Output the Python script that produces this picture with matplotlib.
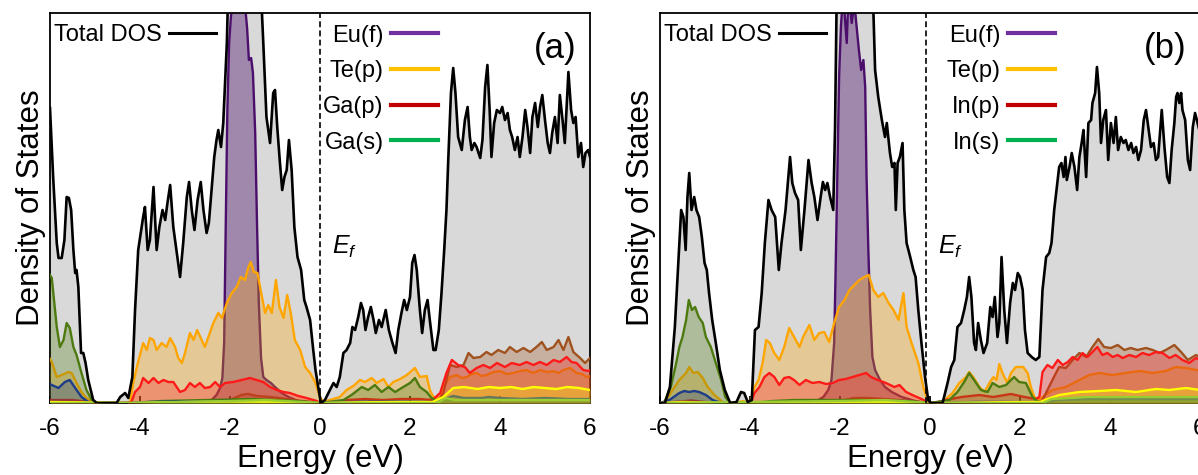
import numpy as np
import matplotlib
matplotlib.use("Agg")
import matplotlib.pyplot as plt
from matplotlib.lines import Line2D

plt.rcParams['font.family'] = ['Liberation Sans', 'DejaVu Sans']
plt.rcParams['mathtext.fontset'] = 'custom'
plt.rcParams['mathtext.it'] = 'Liberation Sans:italic'
plt.rcParams['mathtext.rm'] = 'Liberation Sans'

# ---------------- data (energy in eV, DOS in arb. units) ----------------
xticks = [-6, -4, -2, 0, 2, 4, 6]
ylim_top = 39

# panel (a): EuGa-type compound
tot_a = [(-6.0, 29.5), (-5.93, 22.6), (-5.85, 16.0), (-5.81, 14.5), (-5.74, 14.5), (-5.68, 16.3), (-5.63, 20.6),
         (-5.58, 20.5), (-5.53, 19.3), (-5.48, 15.3), (-5.44, 13.0), (-5.41, 13.3), (-5.37, 11.6), (-5.31, 5.0),
         (-5.26, 5.0), (-5.21, 4.0), (-5.15, 2.3), (-5.04, 0.3), (-4.96, 0.0), (-4.52, 0.0), (-4.44, 0.6),
         (-4.33, 1.0), (-4.26, 0.5), (-4.17, 2.6), (-4.11, 9.3), (-4.04, 15.3), (-3.93, 18.6), (-3.89, 19.6),
         (-3.83, 15.3), (-3.78, 16.3), (-3.70, 21.6), (-3.63, 15.3), (-3.57, 17.6), (-3.50, 19.3), (-3.44, 18.3),
         (-3.39, 20.0), (-3.33, 21.8), (-3.26, 17.6), (-3.19, 15.3), (-3.11, 12.6), (-3.04, 16.0), (-2.96, 20.6),
         (-2.91, 22.1), (-2.85, 19.3), (-2.79, 17.3), (-2.72, 20.3), (-2.65, 22.1), (-2.59, 19.3), (-2.52, 17.0),
         (-2.47, 18.0), (-2.41, 21.3), (-2.35, 24.6), (-2.30, 26.3), (-2.26, 27.3), (-2.20, 25.6), (-2.15, 28.0),
         (-2.07, 36.0), (-2.02, 45.0), (-1.65, 50.0), (-1.30, 40.0), (-1.26, 36.0), (-1.19, 28.6), (-1.11, 26.0),
         (-1.04, 31.0), (-1.00, 31.3), (-0.95, 27.6), (-0.89, 24.0), (-0.84, 21.3), (-0.79, 22.6), (-0.74, 23.3),
         (-0.69, 26.3), (-0.63, 23.3), (-0.57, 17.6), (-0.50, 14.6), (-0.42, 13.3), (-0.35, 10.3), (-0.30, 9.6),
         (-0.22, 8.3), (-0.15, 5.3), (-0.10, 3.3), (-0.04, 1.6), (0.02, 0.0), (0.11, 0.3), (0.22, 1.3),
         (0.30, 2.0), (0.37, 1.6), (0.44, 2.6), (0.52, 5.0), (0.59, 5.3), (0.67, 6.0), (0.72, 7.6), (0.78, 7.3),
         (0.85, 8.6), (0.91, 10.0), (0.96, 9.3), (1.01, 7.3), (1.07, 8.6), (1.13, 9.6), (1.19, 8.3), (1.24, 7.0),
         (1.31, 8.3), (1.37, 7.6), (1.46, 9.3), (1.53, 7.3), (1.61, 6.0), (1.68, 5.0), (1.74, 7.3), (1.81, 9.0),
         (1.87, 10.3), (1.93, 9.3), (2.00, 10.6), (2.05, 14.0), (2.10, 14.8), (2.15, 13.3), (2.22, 9.3),
         (2.27, 7.0), (2.33, 9.3), (2.39, 10.3), (2.44, 8.3), (2.52, 5.3), (2.57, 5.3), (2.64, 7.3), (2.70, 11.0),
         (2.76, 15.3), (2.81, 19.3), (2.85, 24.3), (2.91, 31.0), (2.96, 33.5), (3.01, 31.0), (3.07, 26.6),
         (3.15, 25.3), (3.22, 28.3), (3.28, 29.6), (3.33, 26.6), (3.37, 25.3), (3.43, 26.0), (3.48, 25.6),
         (3.56, 24.5), (3.61, 26.3), (3.67, 31.6), (3.72, 33.8), (3.77, 29.3), (3.81, 24.6), (3.87, 28.0),
         (3.93, 29.3), (4.00, 29.0), (4.05, 29.6), (4.11, 28.3), (4.17, 29.0), (4.22, 27.3), (4.27, 26.6),
         (4.33, 25.3), (4.39, 26.6), (4.44, 24.6), (4.50, 26.6), (4.56, 29.3), (4.61, 27.6), (4.67, 25.0),
         (4.72, 28.6), (4.78, 30.0), (4.84, 27.6), (4.89, 29.6), (4.94, 30.8), (5.00, 28.3), (5.06, 26.0),
         (5.11, 25.0), (5.16, 27.0), (5.22, 28.6), (5.28, 26.0), (5.33, 30.8), (5.39, 28.3), (5.44, 26.0),
         (5.52, 33.1), (5.58, 29.3), (5.63, 28.0), (5.68, 28.6), (5.74, 24.6), (5.80, 26.0), (5.85, 23.6),
         (5.90, 25.0), (5.96, 25.3), (6.0, 24.6)]

eu_f_a = [(-6.0, 0), (-2.9, 0), (-2.56, 0.1), (-2.41, 0.3), (-2.30, 0.8), (-2.22, 1.5), (-2.17, 2.5), (-2.13, 6),
          (-2.10, 16), (-2.06, 29), (-2.02, 36), (-1.98, 38.6), (-1.93, 41), (-1.85, 40), (-1.79, 42),
          (-1.73, 39.5), (-1.67, 40), (-1.62, 37.5), (-1.58, 34.3), (-1.53, 34.5), (-1.49, 33), (-1.44, 27),
          (-1.40, 18), (-1.36, 10), (-1.31, 4.5), (-1.26, 2.6), (-1.19, 2.3), (-1.09, 2.0), (-1.00, 1.6),
          (-0.85, 1.0), (-0.70, 0.6), (-0.48, 0.2), (-0.19, 0), (6.0, 0)]

te_p_a = [(-6.0, 4.4), (-5.96, 4.1), (-5.85, 2.6), (-5.74, 2.8), (-5.59, 3.1), (-5.52, 3.0), (-5.41, 2.0),
          (-5.30, 1.1), (-5.19, 0.5), (-5.04, 0.1), (-4.9, 0), (-4.3, 0), (-4.22, 0.1), (-4.15, 2.0), (-4.07, 3.6),
          (-3.93, 6.0), (-3.85, 5.3), (-3.78, 6.5), (-3.70, 6.3), (-3.63, 5.3), (-3.52, 6.0), (-3.41, 5.6),
          (-3.33, 6.5), (-3.22, 5.6), (-3.15, 4.5), (-3.07, 4.0), (-3.00, 5.0), (-2.89, 7.0), (-2.81, 6.3),
          (-2.73, 7.3), (-2.63, 6.3), (-2.56, 5.6), (-2.48, 6.6), (-2.37, 8.0), (-2.26, 9.0), (-2.18, 8.5),
          (-2.07, 10.0), (-1.96, 11.0), (-1.85, 11.6), (-1.76, 12.6), (-1.67, 12.3), (-1.59, 13.6), (-1.54, 14.1),
          (-1.47, 13.1), (-1.39, 13.0), (-1.32, 11.3), (-1.22, 9.0), (-1.15, 9.8), (-1.07, 9.0), (-0.98, 12.3),
          (-0.90, 9.6), (-0.81, 8.5), (-0.73, 10.8), (-0.65, 9.0), (-0.56, 6.3), (-0.44, 5.3), (-0.33, 3.6),
          (-0.22, 3.0), (-0.11, 2.1), (0.0, 0.6), (0.07, 0.1), (0.44, 0.6), (0.59, 1.3), (0.74, 1.7), (0.89, 2.3),
          (1.0, 2.1), (1.15, 2.5), (1.26, 2.0), (1.41, 2.4), (1.52, 1.6), (1.63, 2.1), (1.78, 2.4), (1.93, 2.8),
          (2.11, 3.5), (2.22, 2.6), (2.37, 2.7), (2.44, 1.3), (2.52, 0.6), (2.67, 0.5), (2.74, 1.6), (2.89, 2.6),
          (3.04, 2.8), (3.15, 2.5), (3.26, 2.6), (3.37, 2.9), (3.48, 3.0), (3.59, 2.7), (3.70, 2.8), (3.85, 3.1),
          (4.0, 3.2), (4.15, 2.9), (4.30, 3.0), (4.45, 3.2), (4.59, 3.3), (4.74, 3.0), (4.89, 3.3), (5.04, 3.1),
          (5.19, 3.2), (5.30, 3.0), (5.41, 3.3), (5.56, 3.5), (5.70, 3.0), (5.82, 2.9), (5.93, 2.6), (6.0, 2.7)]

ga_p_a = [(-6.0, 0.3), (-5.5, 0.3), (-5.1, 0.1), (-4.9, 0), (-4.3, 0), (-4.19, 0.1), (-4.11, 1.1), (-4.0, 1.6),
          (-3.93, 2.5), (-3.81, 2.0), (-3.70, 2.5), (-3.59, 2.0), (-3.48, 2.3), (-3.37, 2.1), (-3.26, 2.1),
          (-3.11, 1.1), (-3.0, 1.3), (-2.89, 2.0), (-2.78, 1.6), (-2.67, 2.0), (-2.56, 1.5), (-2.44, 1.6),
          (-2.33, 2.1), (-2.22, 1.6), (-2.11, 2.0), (-1.93, 2.1), (-1.74, 2.3), (-1.56, 2.5), (-1.41, 2.3),
          (-1.26, 2.1), (-1.11, 1.6), (-0.96, 1.3), (-0.81, 1.1), (-0.67, 1.0), (-0.48, 0.7), (-0.30, 0.5),
          (-0.07, 0.2), (0.0, 0), (0.3, 0.1), (0.6, 0.3), (1.0, 0.4), (1.4, 0.3), (1.8, 0.4), (2.2, 0.4),
          (2.5, 0.3), (2.67, 1.0), (2.81, 3.0), (2.93, 4.3), (3.07, 3.8), (3.22, 3.6), (3.33, 3.0), (3.48, 3.5),
          (3.63, 3.8), (3.78, 3.5), (3.93, 4.0), (4.11, 3.6), (4.26, 4.0), (4.44, 3.8), (4.59, 4.1), (4.74, 3.8),
          (4.89, 4.1), (5.04, 3.8), (5.19, 4.3), (5.33, 4.1), (5.48, 4.6), (5.59, 4.1), (5.70, 4.0), (5.85, 3.3),
          (5.96, 3.2), (6.0, 3.3)]

ga_s_a = [(-6.0, 12.8), (-5.96, 12.5), (-5.85, 7.6), (-5.78, 5.6), (-5.70, 6.3), (-5.63, 8.0), (-5.56, 7.5),
          (-5.48, 5.6), (-5.41, 4.8), (-5.30, 3.0), (-5.19, 1.3), (-5.07, 0.3), (-5.0, 0), (-4.2, 0), (-3.5, 0.2),
          (-2.5, 0.3), (-1.5, 0.4), (-0.5, 0.2), (0.0, 0), (0.52, 0.3), (0.70, 0.8), (0.93, 1.6), (1.07, 1.3),
          (1.22, 1.8), (1.37, 1.1), (1.52, 1.6), (1.67, 1.1), (1.85, 1.6), (2.0, 2.0), (2.11, 2.5), (2.22, 1.6),
          (2.37, 1.1), (2.48, 0.5), (2.6, 0.2), (3.0, 0.3), (4.0, 0.3), (5.0, 0.3), (6.0, 0.3)]

brown_a = [(-6.0, 0), (-2.3, 0), (-2.0, 0.3), (-1.75, 0.8), (-1.6, 0.9), (-1.4, 0.7), (-1.1, 0.6), (-0.9, 0.5),
           (-0.6, 0.3), (-0.2, 0.1), (0.0, 0), (2.6, 0), (2.74, 1.0), (2.89, 3.8), (3.04, 3.6), (3.19, 3.8),
           (3.30, 5.0), (3.41, 4.5), (3.56, 4.6), (3.70, 5.1), (3.81, 4.8), (3.96, 5.3), (4.11, 5.0), (4.22, 5.6),
           (4.37, 5.1), (4.52, 5.5), (4.67, 5.1), (4.81, 5.6), (4.93, 6.1), (5.04, 5.3), (5.19, 5.6), (5.30, 6.3),
           (5.41, 5.3), (5.52, 6.6), (5.63, 5.1), (5.78, 4.5), (5.89, 4.0), (6.0, 4.5)]

blue_a = [(-6.0, 1.9), (-5.96, 1.8), (-5.81, 1.5), (-5.67, 2.1), (-5.56, 2.3), (-5.44, 1.5), (-5.30, 0.6),
          (-5.15, 0.1), (-5.0, 0), (-4.2, 0), (-3.8, 0.1), (-3.0, 0.15), (-2.0, 0.2), (-1.0, 0.1), (0.0, 0),
          (0.5, 0.1), (1.5, 0.15), (2.5, 0.1), (2.7, 0.3), (2.96, 0.7), (3.2, 0.5), (3.6, 0.5), (3.75, 0.6),
          (4.0, 0.5), (4.5, 0.4), (5.0, 0.5), (5.5, 0.4), (6.0, 0.4)]

yellow_a = [(-6.0, 0.1), (-5.0, 0.05), (-4.3, 0), (-3.0, 0.1), (-2.0, 0.15), (-1.0, 0.1), (0.0, 0), (0.5, 0.05),
            (1.5, 0.1), (2.5, 0.1), (2.74, 0.6), (2.96, 1.5), (3.2, 1.6), (3.5, 1.4), (3.75, 1.6), (4.0, 1.5),
            (4.25, 1.6), (4.5, 1.4), (4.75, 1.6), (5.0, 1.5), (5.25, 1.4), (5.5, 1.6), (5.75, 1.5), (6.0, 1.3)]

lime_a = [(-6.0, 0), (-4.2, 0), (-2.0, 0.2), (-1.2, 0.3), (0.0, 0), (2.6, 0), (2.8, 0.5), (3.0, 0.3), (4.0, 0.3),
          (5.0, 0.3), (6.0, 0.3)]

# panel (b): EuIn-type compound
tot_b = [(-6.0, 0), (-5.89, 0), (-5.78, 1.6), (-5.67, 7.6), (-5.59, 14.3), (-5.53, 19.3), (-5.48, 18.6),
         (-5.43, 15.3), (-5.39, 20.6), (-5.35, 23.0), (-5.30, 19.3), (-5.24, 20.6), (-5.19, 19.3), (-5.13, 18.6),
         (-5.07, 16.6), (-5.01, 14.0), (-4.96, 13.3), (-4.91, 11.0), (-4.84, 8.3), (-4.76, 6.0), (-4.67, 3.3),
         (-4.56, 1.3), (-4.44, 0), (-4.30, 0.1), (-4.20, 1.1), (-4.13, 1.0), (-4.05, 0.1), (-3.96, 0.3),
         (-3.89, 7.3), (-3.81, 7.6), (-3.74, 11.0), (-3.67, 16.0), (-3.59, 20.3), (-3.52, 19.3), (-3.44, 18.6),
         (-3.36, 13.3), (-3.30, 16.0), (-3.21, 19.3), (-3.11, 24.6), (-3.06, 22.0), (-3.00, 21.0), (-2.93, 20.3),
         (-2.87, 15.3), (-2.79, 19.3), (-2.70, 24.3), (-2.63, 22.0), (-2.57, 20.6), (-2.50, 18.3), (-2.43, 20.6),
         (-2.38, 22.1), (-2.33, 21.3), (-2.28, 22.0), (-2.22, 20.6), (-2.15, 19.3), (-2.11, 27.6), (-2.07, 42.0),
         (-1.65, 50.0), (-1.26, 39.5), (-1.22, 33.3), (-1.15, 30.6), (-1.07, 28.3), (-1.00, 26.6), (-0.96, 28.0),
         (-0.89, 25.0), (-0.84, 23.6), (-0.79, 24.0), (-0.76, 19.3), (-0.72, 24.0), (-0.67, 24.6), (-0.61, 26.0),
         (-0.57, 19.3), (-0.52, 16.0), (-0.44, 14.6), (-0.37, 13.3), (-0.32, 12.6), (-0.26, 9.3), (-0.19, 6.0),
         (-0.11, 2.6), (-0.04, 0.3), (0.02, 0), (0.28, 0), (0.39, 2.0), (0.47, 3.6), (0.54, 4.3), (0.61, 7.6),
         (0.69, 8.0), (0.76, 9.3), (0.82, 10.6), (0.87, 12.6), (0.92, 10.6), (0.98, 6.0), (1.02, 5.3),
         (1.07, 8.0), (1.13, 6.3), (1.19, 5.0), (1.27, 6.0), (1.34, 9.6), (1.39, 8.6), (1.44, 10.6), (1.50, 6.6),
         (1.54, 8.0), (1.59, 14.6), (1.65, 9.3), (1.71, 6.0), (1.78, 10.0), (1.84, 12.0), (1.89, 11.3),
         (1.95, 13.0), (2.00, 12.6), (2.06, 11.3), (2.11, 7.3), (2.17, 5.0), (2.26, 4.6), (2.35, 4.3),
         (2.43, 4.6), (2.50, 11.3), (2.58, 14.6), (2.65, 15.0), (2.70, 16.0), (2.76, 19.3), (2.82, 21.6),
         (2.87, 23.6), (2.92, 24.0), (2.97, 22.6), (3.01, 24.6), (3.04, 22.3), (3.10, 23.6), (3.15, 25.0),
         (3.21, 23.6), (3.27, 21.3), (3.32, 24.6), (3.37, 26.0), (3.41, 27.3), (3.47, 22.6), (3.52, 28.0),
         (3.58, 28.3), (3.61, 30.0), (3.67, 31.0), (3.71, 33.6), (3.76, 31.0), (3.80, 26.0), (3.85, 28.3),
         (3.91, 29.3), (3.96, 24.3), (4.02, 28.0), (4.08, 26.0), (4.13, 28.6), (4.18, 25.3), (4.24, 26.6),
         (4.30, 26.0), (4.35, 26.3), (4.41, 25.3), (4.47, 26.0), (4.52, 25.0), (4.58, 25.6), (4.63, 24.3),
         (4.69, 25.3), (4.75, 28.3), (4.80, 29.3), (4.85, 27.6), (4.91, 25.6), (4.97, 26.0), (5.02, 24.3),
         (5.07, 24.6), (5.15, 29.3), (5.21, 25.6), (5.27, 22.6), (5.32, 22.0), (5.37, 25.3), (5.43, 28.0),
         (5.47, 30.6), (5.50, 31.0), (5.54, 30.0), (5.58, 31.0), (5.61, 29.3), (5.67, 28.3), (5.73, 24.3),
         (5.78, 23.3), (5.84, 27.6), (5.89, 29.0), (5.93, 28.3), (6.0, 27.0)]

eu_f_b = [(-6.0, 0), (-2.9, 0), (-2.56, 0.1), (-2.37, 0.6), (-2.26, 1.3), (-2.19, 2.3), (-2.13, 6), (-2.10, 12.6),
          (-2.06, 22.6), (-2.02, 32.6), (-1.98, 37.6), (-1.93, 41), (-1.85, 36), (-1.81, 41), (-1.74, 38),
          (-1.68, 40), (-1.63, 37.6), (-1.58, 35.3), (-1.53, 33.3), (-1.48, 34.3), (-1.44, 31.6), (-1.41, 22.6),
          (-1.37, 15.3), (-1.33, 9.3), (-1.28, 4.6), (-1.22, 3.3), (-1.11, 2.3), (-1.00, 1.6), (-0.85, 1.1),
          (-0.63, 0.6), (-0.33, 0.2), (-0.11, 0), (6.0, 0)]

te_p_b = [(-6.0, 0), (-5.9, 0), (-5.87, 0.3), (-5.72, 1.3), (-5.57, 2.3), (-5.42, 3.0), (-5.35, 3.6), (-5.26, 3.0),
          (-5.16, 3.1), (-5.05, 2.5), (-4.94, 1.6), (-4.79, 0.8), (-4.61, 0.1), (-4.5, 0), (-4.25, 0.1),
          (-4.15, 0.2), (-4.05, 0), (-3.98, 0.3), (-3.90, 1.6), (-3.81, 2.3), (-3.72, 4.0), (-3.64, 6.3),
          (-3.56, 6.0), (-3.46, 5.0), (-3.35, 4.3), (-3.24, 5.6), (-3.13, 7.5), (-3.02, 6.6), (-2.90, 5.6),
          (-2.82, 6.6), (-2.68, 7.8), (-2.57, 6.3), (-2.46, 7.0), (-2.35, 7.1), (-2.24, 6.1), (-2.13, 8.0),
          (-2.02, 9.6), (-1.90, 10.3), (-1.79, 11.3), (-1.68, 11.8), (-1.57, 12.3), (-1.46, 12.6), (-1.36, 12.8),
          (-1.26, 11.3), (-1.15, 10.6), (-1.04, 11.0), (-0.92, 10.0), (-0.81, 9.3), (-0.70, 8.3), (-0.59, 11.0),
          (-0.52, 7.6), (-0.41, 6.0), (-0.26, 4.0), (-0.15, 1.6), (-0.07, 0.5), (0.0, 0), (0.28, 0.1),
          (0.50, 1.0), (0.65, 2.0), (0.80, 2.6), (0.87, 3.1), (0.96, 2.6), (1.10, 1.6), (1.21, 1.1), (1.32, 2.0),
          (1.41, 2.6), (1.48, 2.3), (1.54, 3.9), (1.61, 3.0), (1.72, 2.0), (1.80, 3.0), (1.91, 3.6), (1.98, 3.6),
          (2.07, 3.6), (2.17, 3.0), (2.24, 1.6), (2.32, 0.6), (2.43, 0.3), (2.50, 0.6), (2.72, 1.3), (3.02, 1.6),
          (3.32, 2.3), (3.54, 2.8), (3.76, 3.0), (4.06, 2.8), (4.35, 3.0), (4.65, 3.2), (4.95, 3.0), (5.24, 3.2),
          (5.46, 3.6), (5.69, 3.5), (5.91, 3.3), (6.0, 3.3)]

in_p_b = [(-6.0, 0), (-5.7, 0.1), (-5.3, 0.25), (-5.0, 0.1), (-4.8, 0), (-4.0, 0), (-3.98, 0.1), (-3.90, 1.0),
          (-3.79, 1.6), (-3.68, 2.6), (-3.57, 3.0), (-3.46, 2.6), (-3.35, 1.8), (-3.24, 2.5), (-3.13, 2.6),
          (-3.02, 2.3), (-2.90, 1.8), (-2.76, 2.3), (-2.61, 2.0), (-2.46, 2.1), (-2.31, 1.9), (-2.16, 2.0),
          (-2.02, 2.3), (-1.87, 2.4), (-1.72, 2.6), (-1.57, 2.8), (-1.42, 3.0), (-1.31, 2.6), (-1.16, 2.3),
          (-0.98, 2.0), (-0.79, 1.6), (-0.68, 1.8), (-0.53, 1.1), (-0.39, 0.8), (-0.24, 0.5), (-0.05, 0.1),
          (0.1, 0), (0.35, 0.3), (0.7, 0.6), (1.1, 0.8), (1.4, 0.6), (1.8, 0.9), (2.1, 0.6), (2.35, 0.4),
          (2.43, 0.6), (2.50, 3.1), (2.61, 3.8), (2.72, 3.5), (2.84, 4.3), (2.95, 3.8), (3.06, 4.1), (3.17, 4.6),
          (3.28, 4.3), (3.39, 5.0), (3.50, 4.6), (3.61, 5.1), (3.72, 5.6), (3.83, 4.8), (3.94, 5.0), (4.06, 4.6),
          (4.17, 4.8), (4.28, 4.5), (4.43, 4.8), (4.58, 4.6), (4.72, 5.0), (4.87, 4.8), (5.02, 5.1), (5.17, 5.0),
          (5.32, 4.5), (5.46, 4.8), (5.61, 4.3), (5.76, 4.0), (5.91, 4.5), (6.0, 4.3)]

in_s_b = [(-6.0, 0), (-5.9, 0.1), (-5.76, 1.6), (-5.64, 4.0), (-5.57, 5.6), (-5.50, 6.6), (-5.42, 8.3),
          (-5.36, 10.3), (-5.29, 9.3), (-5.22, 9.6), (-5.14, 8.6), (-5.05, 8.0), (-4.98, 6.6), (-4.87, 5.6),
          (-4.76, 4.0), (-4.64, 2.3), (-4.55, 0.6), (-4.46, 0.1), (-4.3, 0), (-3.9, 0), (-3.5, 0.2), (-3.0, 0.3),
          (-2.5, 0.3), (-1.5, 0.3), (-0.5, 0.2), (0.0, 0), (0.43, 0.3), (0.61, 1.1), (0.76, 2.1), (0.87, 3.0),
          (0.98, 2.3), (1.13, 1.3), (1.28, 1.1), (1.39, 2.0), (1.54, 1.6), (1.69, 1.8), (1.80, 2.3), (1.87, 2.6),
          (1.98, 2.1), (2.13, 2.0), (2.28, 0.6), (2.40, 0.1), (2.6, 0.2), (3.0, 0.3), (4.0, 0.3), (5.0, 0.3),
          (6.0, 0.3)]

brown_b = [(-6.0, 0), (-2.3, 0), (-2.0, 0.2), (-1.7, 0.5), (-1.4, 0.5), (-1.0, 0.4), (-0.5, 0.2), (0.0, 0),
           (2.45, 0), (2.50, 0.3), (2.72, 2.3), (2.87, 3.6), (3.02, 3.5), (3.17, 4.3), (3.32, 5.0), (3.47, 4.6),
           (3.61, 5.6), (3.74, 6.4), (3.87, 5.6), (4.02, 5.5), (4.17, 5.8), (4.32, 5.3), (4.46, 5.5), (4.61, 5.3),
           (4.80, 5.5), (4.95, 5.3), (5.10, 5.0), (5.24, 5.3), (5.43, 5.8), (5.58, 5.1), (5.73, 4.3), (5.91, 4.8),
           (6.0, 4.6)]

blue_b = [(-6.0, 0), (-5.79, 0.3), (-5.57, 1.0), (-5.46, 1.2), (-5.35, 1.1), (-5.24, 1.2), (-5.13, 1.1),
          (-4.98, 0.8), (-4.83, 0.3), (-4.7, 0.1), (-4.5, 0), (-4.0, 0), (-3.0, 0.1), (-2.0, 0.15), (-1.0, 0.1),
          (0.0, 0), (1.0, 0.1), (2.0, 0.1), (2.5, 0.1), (2.8, 0.3), (3.5, 0.4), (4.5, 0.4), (5.5, 0.4), (6.0, 0.4)]

yellow_b = [(-6.0, 0), (-5.5, 0.1), (-5.0, 0.05), (-4.5, 0), (-3.0, 0.1), (-2.0, 0.1), (-1.0, 0.1), (0.0, 0),
            (1.0, 0.05), (2.0, 0.1), (2.45, 0.1), (2.55, 0.3), (2.87, 0.8), (3.32, 1.1), (3.76, 1.2), (4.13, 1.3),
            (4.58, 1.1), (5.02, 1.4), (5.32, 1.3), (5.69, 1.5), (6.0, 1.3)]

lime_b = [(-6.0, 0), (-2.0, 0.2), (-1.0, 0.3), (0.0, 0), (2.5, 0), (2.7, 0.4), (3.5, 0.6), (4.5, 0.6), (5.5, 0.6),
          (6.0, 0.6)]

labels_a = ['Eu(f)', 'Te(p)', 'Ga(p)', 'Ga(s)']
labels_b = ['Eu(f)', 'Te(p)', 'In(p)', 'In(s)']
legend_colors = ['#7030a0', '#ffc000', '#c00000', '#00b050']
fermi = [0.0, -0.08]
tags = ['(a)', '(b)']

# line colour, fill alpha for each projected curve (drawing order)
styles = [('#4b0f6b', 0.40), ('#ffa500', 0.30), ('#a0521e', 0.30), ('#ff1a1a', 0.30),
          ('#4d7a0f', 0.30), ('#1f3c88', 0.30), ('#ffff00', 0.30), ('#9acd32', 0.30)]


def draw(ax, total, parts, labels, tag, ef):
    e, v = np.array(total).T
    ax.fill_between(e, 0, v, color='#d9d9d9', lw=0, zorder=1)
    for k, (pts, (col, al)) in enumerate(zip(parts, styles)):
        pe, pv = np.array(pts).T
        ax.fill_between(pe, 0, pv, color=col, alpha=al, lw=0, zorder=2 + k)
        ax.plot(pe, pv, color=col, lw=1.7, zorder=2.5 + k, solid_joinstyle='round')
    ax.plot(e, v, color='black', lw=1.9, zorder=20, solid_joinstyle='round')
    ax.axvline(ef, color='black', lw=1.2, ls=(0, (3.5, 2)), zorder=21)

    ax.set_xlim(-6, 6)
    ax.set_ylim(0, ylim_top)
    ax.set_xticks(xticks)
    ax.set_xticklabels([str(t) for t in xticks])
    ax.set_yticks([])
    ax.tick_params(axis='x', direction='in', length=5, width=1.3, labelsize=17.5, pad=11)
    for s in ax.spines.values():
        s.set_linewidth(1.3)
    ax.set_xlabel('Energy (eV)', fontsize=22.5, labelpad=3)
    ax.set_ylabel('Density of States', fontsize=22.5, labelpad=3)

    leg1 = ax.legend([Line2D([], [], color='black', lw=2.2)], ['Total DOS'], loc='center left',
                     bbox_to_anchor=(0.008, 0.944), frameon=False, markerfirst=False, fontsize=17,
                     handlelength=2.0, handletextpad=0.3, borderpad=0, borderaxespad=0)
    ax.add_artist(leg1)
    hs = [Line2D([], [], color=c, lw=3) for c in legend_colors]
    xr = 0.7185 if tag == '(a)' else 0.7315
    ax.legend(hs, labels, loc='center right', bbox_to_anchor=(xr, 0.805), frameon=False, markerfirst=False,
              fontsize=17, handlelength=2.0, handletextpad=0.3, labelspacing=0.58, borderpad=0,
              borderaxespad=0)
    ax.text(0.935, 0.91, tag, transform=ax.transAxes, fontsize=25, ha='center', va='center', zorder=30)
    ax.text(0.522 if tag == '(a)' else 0.515, 0.40, '$E_f$', transform=ax.transAxes, fontsize=18,
            ha='left', va='center', zorder=30)


fig = plt.figure(figsize=(11.98, 4.75), dpi=100)
ax_a = fig.add_axes([50 / 1198, 72 / 475, 540 / 1198, 390 / 475])
ax_b = fig.add_axes([660 / 1198, 72 / 475, 540 / 1198, 390 / 475])

draw(ax_a, tot_a, [eu_f_a, te_p_a, brown_a, ga_p_a, ga_s_a, blue_a, yellow_a, lime_a], labels_a, tags[0], fermi[0])
draw(ax_b, tot_b, [eu_f_b, te_p_b, brown_b, in_p_b, in_s_b, blue_b, yellow_b, lime_b], labels_b, tags[1], fermi[1])

fig.savefig('out.png', dpi=100)
